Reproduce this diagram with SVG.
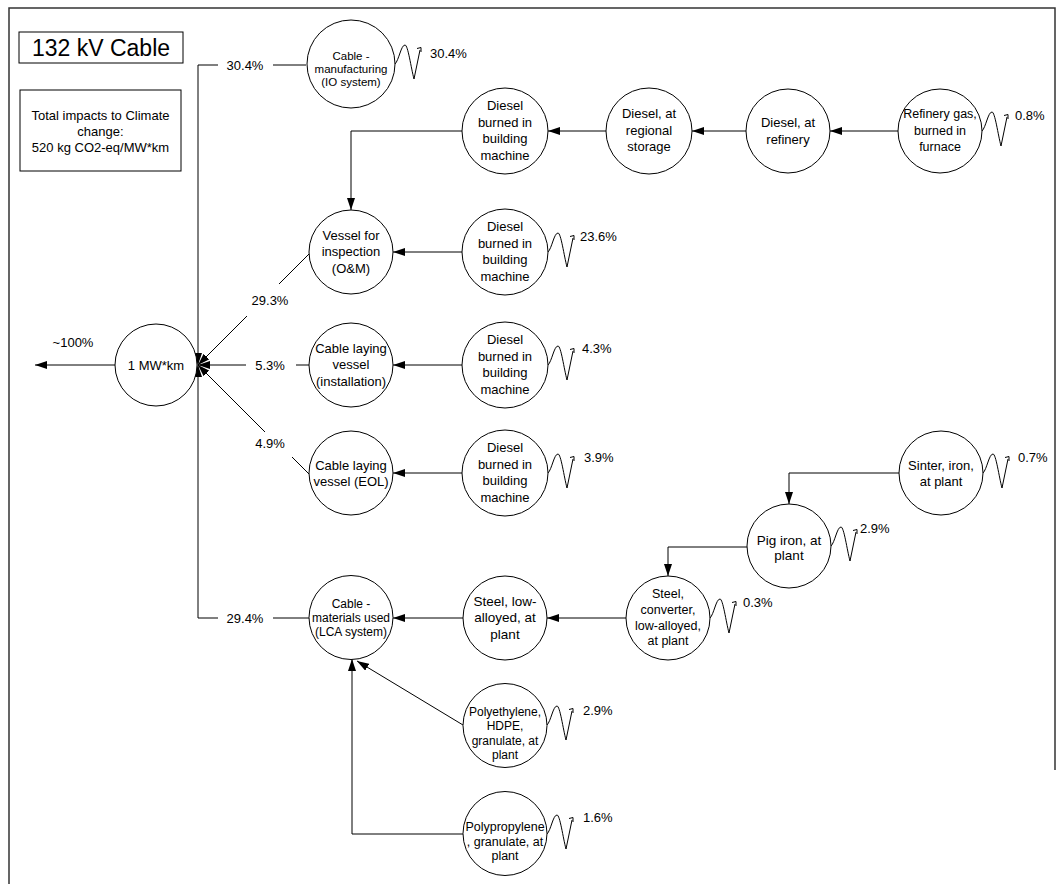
<svg xmlns="http://www.w3.org/2000/svg" xmlns:xlink="http://www.w3.org/1999/xlink" width="1064" height="884" viewBox="0 0 1064 884">
<style>
  text { font-family: "Liberation Sans", Arial, sans-serif; fill: #000; }
  .n { font-size: 13px; text-anchor: middle; }
  .s { font-size: 12px; text-anchor: middle; }
  .xs { font-size: 11.5px; text-anchor: middle; }
  .m { font-size: 12.5px; text-anchor: middle; }
  .b { font-size: 13.5px; text-anchor: middle; }
  .lbl { font-size: 13px; text-anchor: middle; }
  .pct { font-size: 13px; text-anchor: start; }
  .node circle { fill: #fff; stroke: #000; stroke-width: 1; }
  .c { fill: none; stroke: #000; stroke-width: 1; }
  .ca { fill: none; stroke: #000; stroke-width: 1; marker-end: url(#ah); }
  .frame { fill: none; stroke: #333; stroke-width: 1.5; }
  .box { fill: #fff; stroke: #000; stroke-width: 1; }
</style>
<defs>
  <marker id="ah" viewBox="0 0 12 8" refX="12" refY="4" markerWidth="12" markerHeight="8" markerUnits="userSpaceOnUse" orient="auto">
    <path d="M0,0 L12,4 L0,8 z" fill="#000"/>
  </marker>
  <g id="sq" fill="none" stroke="#000" stroke-width="1">
    <path d="M0,0 C4,-4 6,-19 10,-19 C13,-19 16,4 19,15 L25,-14"/>
    <path d="M22,-15.5 L26,-16.5 L26,-12"/>
  </g>
</defs>

<rect width="1064" height="884" fill="#fff"/>
<path class="frame" d="M9,884 V8 H1055 V770"/>

<g id="title">
  <rect class="box" x="19" y="32" width="164" height="31"/>
  <text x="101" y="55.5" style="font-size:23px;text-anchor:middle">132 kV Cable</text>
</g>
<g id="total">
  <rect class="box" x="20" y="90" width="161" height="81"/>
  <text class="n" x="100.5" y="119.5">Total impacts to Climate</text>
  <text class="n" x="100.5" y="135.5">change:</text>
  <text class="n" x="100.5" y="151.5">520 kg CO2-eq/MW*km</text>
</g>

<g id="connectors">
  <line id="e-out" class="ca" x1="115" y1="365" x2="35" y2="365"/>
  <text class="lbl" x="73" y="347">~100%</text>

  <line class="c" x1="306" y1="65" x2="273" y2="65"/>
  <path id="e-manuf" class="ca" d="M218,65 H198 V365"/>
  <text class="lbl" x="245" y="70">30.4%</text>

  <line class="c" x1="310" y1="253" x2="279" y2="284"/>
  <line id="e-om" class="ca" x1="247" y1="316" x2="198" y2="365"/>
  <text class="lbl" x="270" y="305">29.3%</text>

  <line class="c" x1="309" y1="365" x2="296" y2="365"/>
  <line id="e-inst" class="ca" x1="246" y1="365" x2="198" y2="365"/>
  <text class="lbl" x="270" y="369.5">5.3%</text>

  <line class="c" x1="309" y1="474" x2="292" y2="457"/>
  <line id="e-eol" class="ca" x1="265" y1="432" x2="198" y2="365"/>
  <text class="lbl" x="270" y="448">4.9%</text>

  <line class="c" x1="310" y1="618" x2="273" y2="618"/>
  <path id="e-mat" class="ca" d="M218,618 H198 V365"/>
  <text class="lbl" x="245" y="622.5">29.4%</text>

  <line id="e-d0" class="ca" x1="606" y1="131" x2="548" y2="131"/>
  <line id="e-d1" class="ca" x1="746" y1="131" x2="692" y2="131"/>
  <line id="e-d2" class="ca" x1="898" y1="131" x2="830" y2="131"/>
  <path id="e-d3" class="ca" d="M462,131 H351 V210"/>

  <line id="e-d4" class="ca" x1="462" y1="252" x2="393" y2="252"/>
  <line id="e-d5" class="ca" x1="462" y1="365" x2="393" y2="365"/>
  <line id="e-d6" class="ca" x1="462" y1="473" x2="393" y2="473"/>

  <line id="e-s1" class="ca" x1="463" y1="618" x2="393" y2="618"/>
  <line id="e-s2" class="ca" x1="626" y1="618" x2="547" y2="618"/>
  <path id="e-s3" class="ca" d="M747,547 H668 V576"/>
  <path id="e-s4" class="ca" d="M899,473 H789 V504"/>

  <line id="e-pe" class="ca" x1="463" y1="725" x2="357" y2="661"/>
  <path id="e-pp" class="ca" d="M463,834 H352 V659"/>
</g>

<g id="n-fu" class="node"><circle cx="156" cy="365" r="41"/>
  <text class="n" x="156" y="369.5">1 MW*km</text></g>

<g id="n-manuf" class="node"><circle cx="351" cy="64" r="44"/>
  <text class="xs"><tspan x="351" y="60">Cable -</tspan><tspan x="351" y="73">manufacturing</tspan><tspan x="351" y="86">(IO system)</tspan></text></g>

<g id="n-om" class="node"><circle cx="351" cy="252" r="42"/>
  <text class="n"><tspan x="351" y="239.5">Vessel for</tspan><tspan x="351" y="256">inspection</tspan><tspan x="351" y="272.5">(O&amp;M)</tspan></text></g>

<g id="n-inst" class="node"><circle cx="351" cy="365" r="42"/>
  <text class="n"><tspan x="351" y="352.5">Cable laying</tspan><tspan x="351" y="369">vessel</tspan><tspan x="351" y="385.5">(installation)</tspan></text></g>

<g id="n-eol" class="node"><circle cx="351" cy="473" r="42"/>
  <text class="n"><tspan x="351" y="469.5">Cable laying</tspan><tspan x="351" y="485.5">vessel (EOL)</tspan></text></g>

<g id="n-mat" class="node"><circle cx="351" cy="617.5" r="42"/>
  <text class="s"><tspan x="351" y="607.5">Cable -</tspan><tspan x="351" y="622">materials used</tspan><tspan x="351" y="636">(LCA system)</tspan></text></g>

<g id="n-dtop" class="node"><circle cx="505" cy="131" r="43"/>
  <text class="n"><tspan x="505" y="110">Diesel</tspan><tspan x="505" y="126.5">burned in</tspan><tspan x="505" y="143">building</tspan><tspan x="505" y="159.5">machine</tspan></text></g>

<g id="n-store" class="node"><circle cx="649" cy="131" r="43"/>
  <text class="n"><tspan x="649" y="118">Diesel, at</tspan><tspan x="649" y="135">regional</tspan><tspan x="649" y="151">storage</tspan></text></g>

<g id="n-refin" class="node"><circle cx="788" cy="131" r="42"/>
  <text class="n"><tspan x="788" y="127">Diesel, at</tspan><tspan x="788" y="144">refinery</tspan></text></g>

<g id="n-rgas" class="node"><circle cx="940" cy="131" r="42"/>
  <text class="m"><tspan x="940" y="117.5">Refinery gas,</tspan><tspan x="940" y="134.5">burned in</tspan><tspan x="940" y="150.5">furnace</tspan></text></g>

<g id="n-d1" class="node"><circle cx="505" cy="252" r="43"/>
  <text class="n"><tspan x="505" y="231">Diesel</tspan><tspan x="505" y="247.5">burned in</tspan><tspan x="505" y="264">building</tspan><tspan x="505" y="280.5">machine</tspan></text></g>

<g id="n-d2" class="node"><circle cx="505" cy="365" r="43"/>
  <text class="n"><tspan x="505" y="344">Diesel</tspan><tspan x="505" y="360.5">burned in</tspan><tspan x="505" y="377">building</tspan><tspan x="505" y="393.5">machine</tspan></text></g>

<g id="n-d3" class="node"><circle cx="505" cy="473" r="43"/>
  <text class="n"><tspan x="505" y="452">Diesel</tspan><tspan x="505" y="468.5">burned in</tspan><tspan x="505" y="485">building</tspan><tspan x="505" y="501.5">machine</tspan></text></g>

<g id="n-steel" class="node"><circle cx="505" cy="618" r="42"/>
  <text class="b"><tspan x="505" y="605.5">Steel, low-</tspan><tspan x="505" y="622">alloyed, at</tspan><tspan x="505" y="638.5">plant</tspan></text></g>

<g id="n-conv" class="node"><circle cx="668" cy="618" r="42"/>
  <text class="m"><tspan x="668" y="598">Steel,</tspan><tspan x="668" y="614">converter,</tspan><tspan x="668" y="629.5">low-alloyed,</tspan><tspan x="668" y="645">at plant</tspan></text></g>

<g id="n-pig" class="node"><circle cx="789" cy="546" r="42"/>
  <text class="b"><tspan x="789" y="544.5">Pig iron, at</tspan><tspan x="789" y="560">plant</tspan></text></g>

<g id="n-sinter" class="node"><circle cx="941" cy="473" r="42"/>
  <text class="n"><tspan x="941" y="469.5">Sinter, iron,</tspan><tspan x="941" y="486">at plant</tspan></text></g>

<g id="n-pe" class="node"><circle cx="505" cy="725.5" r="42"/>
  <text class="s"><tspan x="505" y="716">Polyethylene,</tspan><tspan x="505" y="730">HDPE,</tspan><tspan x="505" y="744.5">granulate, at</tspan><tspan x="505" y="759">plant</tspan></text></g>

<g id="n-pp" class="node"><circle cx="505" cy="833.5" r="42"/>
  <text class="m"><tspan x="505" y="830.5">Polypropylene</tspan><tspan x="505" y="845.5">, granulate, at</tspan><tspan x="505" y="859.5">plant</tspan></text></g>

<g id="emissions">
  <use href="#sq" xlink:href="#sq" x="395" y="64"/><text class="pct" x="430" y="58">30.4%</text>
  <use href="#sq" xlink:href="#sq" x="982" y="131"/><text class="pct" x="1015" y="119.5">0.8%</text>
  <use href="#sq" xlink:href="#sq" x="548" y="252"/><text class="pct" x="580" y="240.5">23.6%</text>
  <use href="#sq" xlink:href="#sq" x="548" y="365"/><text class="pct" x="582" y="352.5">4.3%</text>
  <use href="#sq" xlink:href="#sq" x="548" y="473"/><text class="pct" x="584" y="461.5">3.9%</text>
  <use href="#sq" xlink:href="#sq" x="983" y="473"/><text class="pct" x="1018" y="461.5">0.7%</text>
  <use href="#sq" xlink:href="#sq" x="831" y="546"/><text class="pct" x="860" y="532.5">2.9%</text>
  <use href="#sq" xlink:href="#sq" x="710" y="618"/><text class="pct" x="743" y="606.5">0.3%</text>
  <use href="#sq" xlink:href="#sq" x="547" y="725"/><text class="pct" x="583" y="714.5">2.9%</text>
  <use href="#sq" xlink:href="#sq" x="547" y="834"/><text class="pct" x="583" y="821.5">1.6%</text>
</g>
</svg>
